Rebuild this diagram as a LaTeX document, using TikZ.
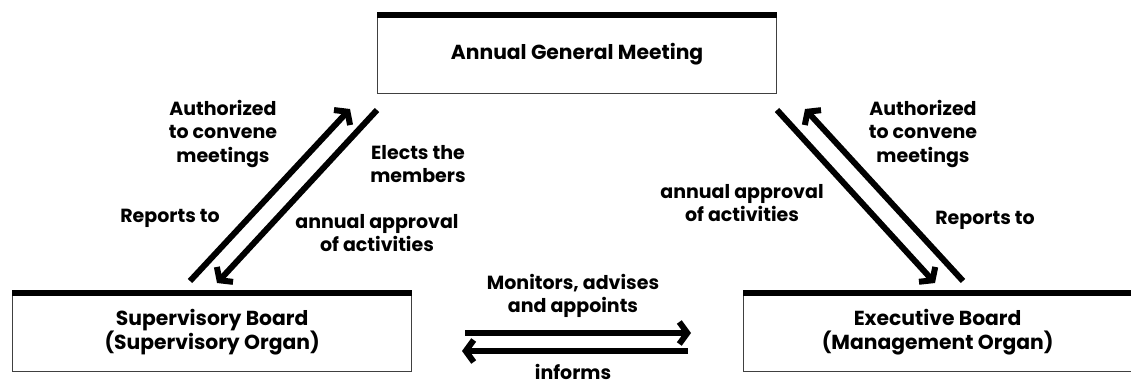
\documentclass[tikz,border=0pt]{standalone}
\usepackage{fontspec}
\setmainfont{Poppins}[BoldFont={* Bold}]
\usetikzlibrary{arrows.meta}
\tikzset{
  box/.style={draw=black!75, line width=1.2pt, minimum height=78pt, align=center, font=\bfseries\fontsize{20.3}{24}\selectfont, inner sep=0pt},
  topbar/.style={line width=6pt},
  lbl/.style={align=center, font=\bfseries\fontsize{19}{23.5}\selectfont, inner sep=0pt},
  lblone/.style={font=\bfseries\fontsize{19}{23.5}\selectfont, inner sep=0pt},
  arr/.style={line width=6pt, -{Straight Barb[length=8pt,width=22pt,line width=6pt]}},
}
\begin{document}
\begin{tikzpicture}[x=1pt,y=-1pt]
\useasboundingbox (0,0) rectangle (1131,387);
% boxes
\node[box, minimum width=399pt, anchor=north west] (agm) at (377,15) {Annual General Meeting};
\node[box, minimum width=399pt, anchor=north west] (sb) at (12,293) {Supervisory Board\\(Supervisory Organ)};
\node[box, minimum width=388pt, anchor=north west] (eb) at (743,293) {Executive Board\\(Management Organ)};
\draw[topbar] (agm.north west) -- (agm.north east);
\draw[topbar] (sb.north west) -- (sb.north east);
\draw[topbar] (eb.north west) -- (eb.north east);
% arrow end points
\coordinate (l1s) at (190,281);
\coordinate (l1e) at (350,109);
\coordinate (l2s) at (377,110);
\coordinate (l2e) at (217,283);
\coordinate (r1s) at (777,110);
\coordinate (r1e) at (935,283);
\coordinate (r2s) at (963,281);
\coordinate (r2e) at (805,109);
\coordinate (h1s) at (465,333);
\coordinate (h1e) at (691,333);
\coordinate (h2s) at (688,351);
\coordinate (h2e) at (462,351);
\draw[arr] (l1s) -- (l1e);
\draw[arr] (l2s) -- (l2e);
\draw[arr] (r1s) -- (r1e);
\draw[arr] (r2s) -- (r2e);
\draw[arr] (h1s) -- (h1e);
\draw[arr] (h2s) -- (h2e);
% labels
\node[lbl] (a1) at (223,134) {Authorized\\to convene\\meetings};
\node[lbl] (a2) at (418,164) {Elects the\\members};
\node[lbl] (a3) at (170,218) {Reports to};
\node[lbl] (a4) at (377,233) {annual approval\\of activities};
\node[lbl] (b1) at (923,134) {Authorized\\to convene\\meetings};
\node[lbl] (b2) at (742,203) {annual approval\\of activities};
\node[lbl] (b3) at (985,220) {Reports to};
\node[lbl] (c1) at (573,296) {Monitors, advises\\and appoints};
\node[lblone, anchor=base] (c2) at (573,379) {informs};
\end{tikzpicture}
\end{document}
